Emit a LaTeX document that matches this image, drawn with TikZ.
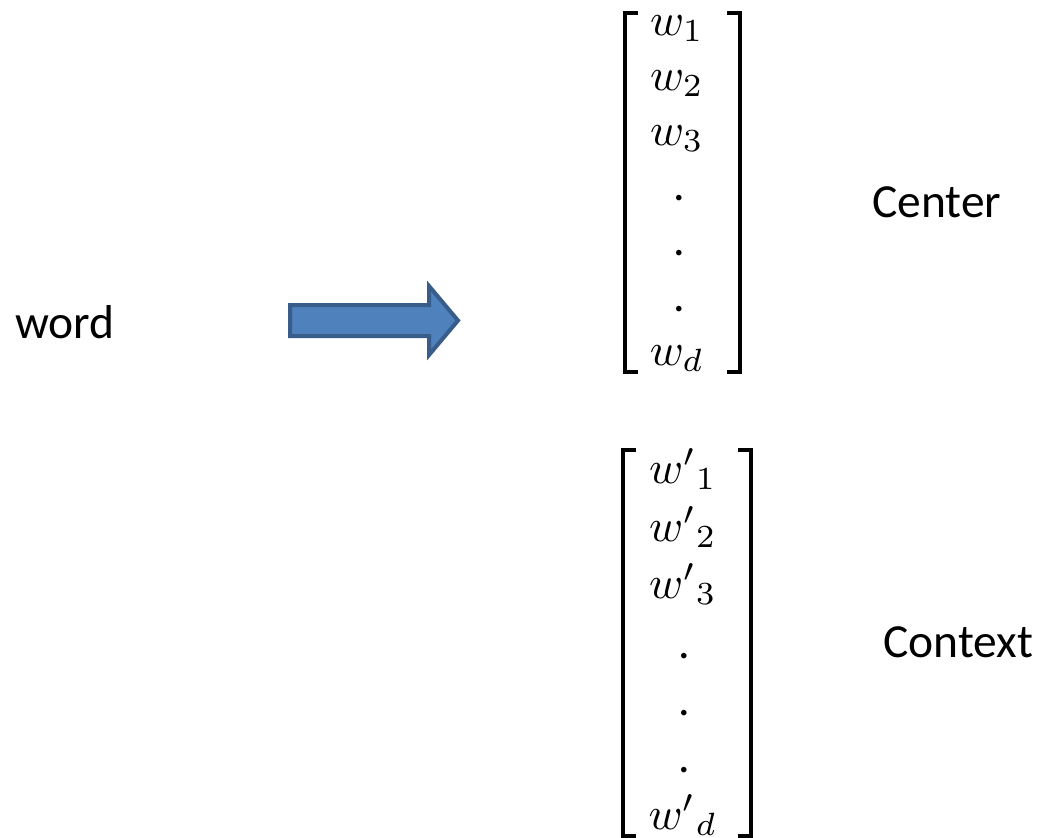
\documentclass[tikz,border=0pt]{standalone}
\usepackage{graphicx}
\usepackage{fontspec}
\setmainfont{Carlito}
\definecolor{arrowfill}{HTML}{4F81BD}
\definecolor{arrowedge}{HTML}{385D8A}
% enlarged math entry, built at 10pt and scaled up
\newcommand{\bigentry}[1]{\scalebox{4.6}{\normalsize$#1$}}
\begin{document}
\begin{tikzpicture}[x=1pt,y=-1pt,
  lbl/.style={font=\fontsize{47.5}{56}\selectfont, anchor=base west, inner sep=0pt},
  ent/.style={font=\fontsize{46}{54}\selectfont, anchor=base, inner sep=0pt},
  brk/.style={line width=3.5pt, line cap=butt, line join=miter},
  blockarrow/.style={draw=arrowedge, fill=arrowfill, line width=4pt, line join=miter}
]
\useasboundingbox (0,0) rectangle (1037,838);

% input label and the block arrow
\node[lbl] (word) at (15,338) {word};
\draw[blockarrow] (290,305) -- (429,305) -- (429,286) -- (458,320.5)
  -- (429,355) -- (429,336) -- (290,336) -- cycle;

% centre vector
\draw[brk] (638,13) -- (625,13) -- (625,372) -- (638,372);
\draw[brk] (727,13) -- (740,13) -- (740,372) -- (727,372);
\node[ent] (c1) at (677,35)  {\bigentry{w_1}};
\node[ent] (c2) at (677,90)  {\bigentry{w_2}};
\node[ent] (c3) at (677,145) {\bigentry{w_3}};
\node[ent] (c4) at (679,200) {.};
\node[ent] (c5) at (679,255) {.};
\node[ent] (c6) at (679,311) {.};
\node[ent] (c7) at (677,365) {\bigentry{w_d}};
\node[lbl] (center) at (872,217) {Center};

% context vector
\draw[brk] (636,450) -- (623,450) -- (623,836) -- (636,836);
\draw[brk] (738,450) -- (751,450) -- (751,836) -- (738,836);
\node[ent] (x1) at (683,483) {\bigentry{{w'}_1}};
\node[ent] (x2) at (683,541) {\bigentry{{w'}_2}};
\node[ent] (x3) at (683,598) {\bigentry{{w'}_3}};
\node[ent] (x4) at (684,658) {.};
\node[ent] (x5) at (684,715) {.};
\node[ent] (x6) at (684,772) {.};
\node[ent] (x7) at (683,829) {\bigentry{{w'}_d}};
\node[lbl] (context) at (883,657) {Context};
\end{tikzpicture}
\end{document}
